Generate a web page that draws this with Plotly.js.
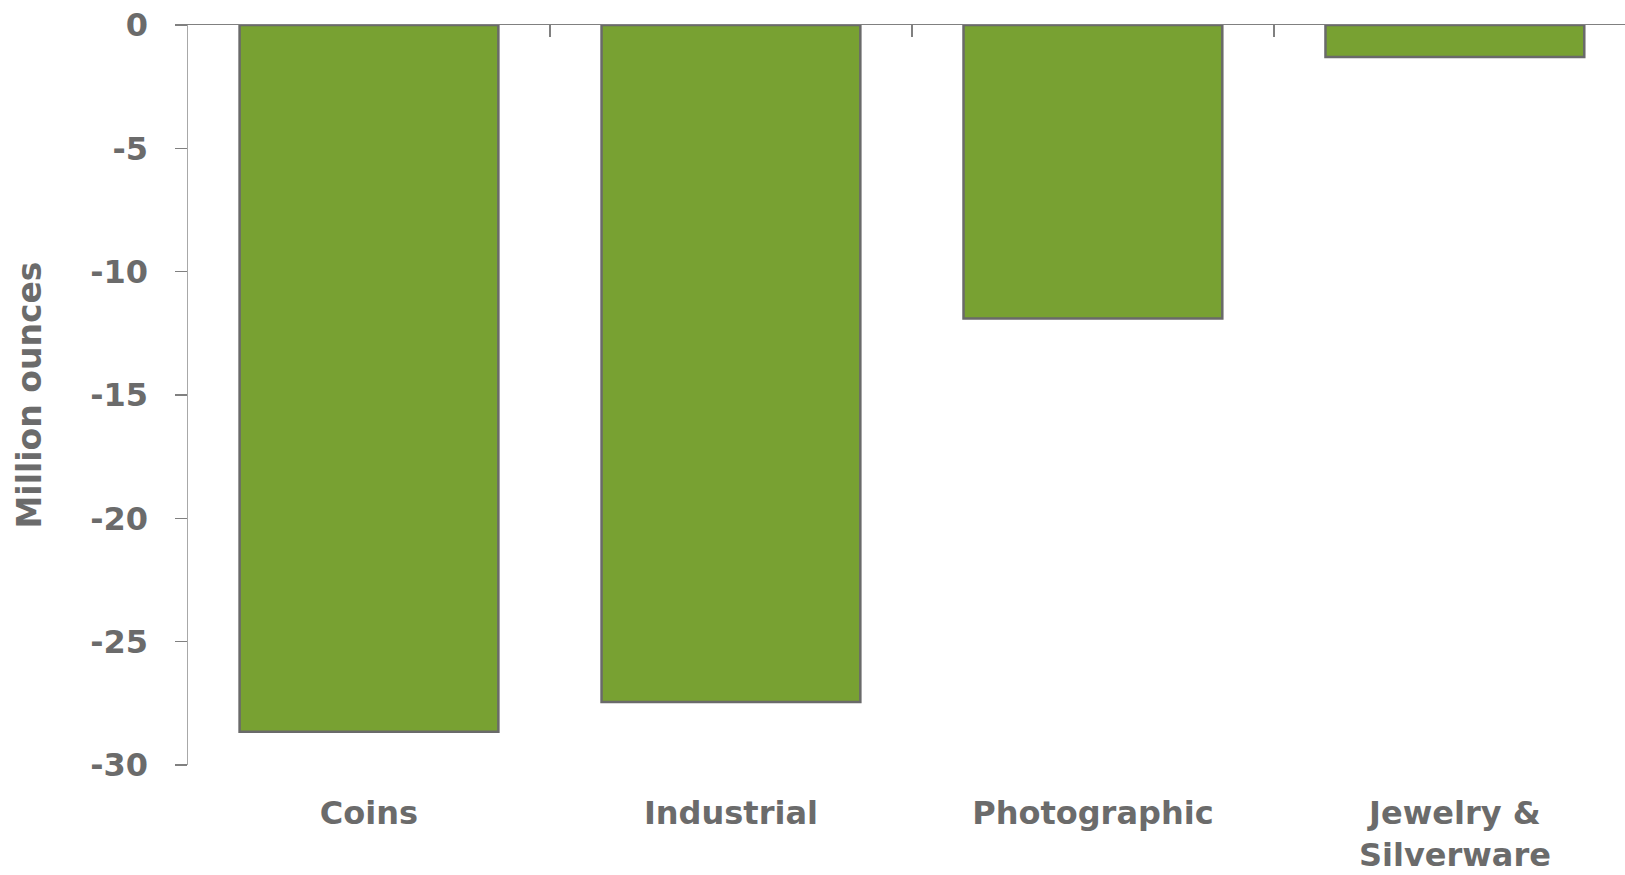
<!DOCTYPE html>
<html>
<head>
<meta charset="utf-8">
<script src="https://cdn.plot.ly/plotly-3.0.1.min.js"></script>
<style>html,body{margin:0;padding:0;background:#fff;}#chart{width:1625px;height:875px;}</style>
</head>
<body>
<div id="chart"></div>
<script>
const categories = ["Coins", "Industrial", "Photographic", "Jewelry &<br>Silverware"];
const values = [-28.65, -27.45, -11.9, -1.3];
const yTickVals = [0, -5, -10, -15, -20, -25, -30];
const yTickText = ["0", "-5", "-10", "-15", "-20", "-25", "-30"];
const boundaryTicks = [-0.5, 0.5, 1.5, 2.5, 3.5];

const FONT = "DejaVu Sans, Verdana, sans-serif";
const GRAY = "#6b6b6b";

const catIdx = categories.map((c, i) => i);

const traces = [
  {
    type: "bar",
    x: catIdx,
    y: values,
    width: 0.715,
    marker: { color: "#78a132", line: { color: "#6a6a6a", width: 2.5 } },
    hoverinfo: "skip"
  },
  {
    type: "scatter",
    mode: "markers",
    x: [],
    y: [],
    xaxis: "x2",
    showlegend: false,
    hoverinfo: "skip"
  }
];

const layout = {
  width: 1625,
  height: 875,
  margin: { l: 188, r: 0, t: 25, b: 110, pad: 0 },
  paper_bgcolor: "#ffffff",
  plot_bgcolor: "#ffffff",
  showlegend: false,
  bargap: 0,
  font: { family: FONT, color: GRAY },
  xaxis: {
    type: "linear",
    range: [-0.5, 3.47],
    tickmode: "array",
    tickvals: catIdx,
    ticktext: categories,
    ticks: "",
    showline: false,
    showgrid: false,
    zeroline: false,
    ticklabelstandoff: 26,
    tickfont: { family: FONT, size: 32, color: GRAY, weight: "bold" },
    automargin: false,
    fixedrange: true
  },
  xaxis2: {
    overlaying: "x",
    side: "top",
    type: "linear",
    range: [-0.5, 3.47],
    tickmode: "array",
    tickvals: boundaryTicks,
    ticks: "inside",
    ticklen: 12,
    tickwidth: 1.5,
    tickcolor: "#808080",
    showticklabels: false,
    showline: true,
    linecolor: "#808080",
    linewidth: 1.5,
    showgrid: false,
    zeroline: false,
    automargin: false,
    fixedrange: true
  },
  yaxis: {
    range: [-30, 0],
    tickmode: "array",
    tickvals: yTickVals,
    ticktext: yTickText,
    ticks: "outside",
    ticklen: 12,
    tickwidth: 1.5,
    tickcolor: "#808080",
    showline: true,
    linecolor: "#a8a8a8",
    linewidth: 1.5,
    showgrid: false,
    zeroline: false,
    ticklabelstandoff: 20,
    tickfont: { family: FONT, size: 32, color: GRAY, weight: "bold" },
    title: {
      text: "Million ounces",
      font: { family: FONT, size: 33, color: GRAY, weight: "bold" },
      standoff: 38
    },
    automargin: false,
    fixedrange: true
  }
};

Plotly.newPlot("chart", traces, layout, { displayModeBar: false, staticPlot: true });
</script>
</body>
</html>
